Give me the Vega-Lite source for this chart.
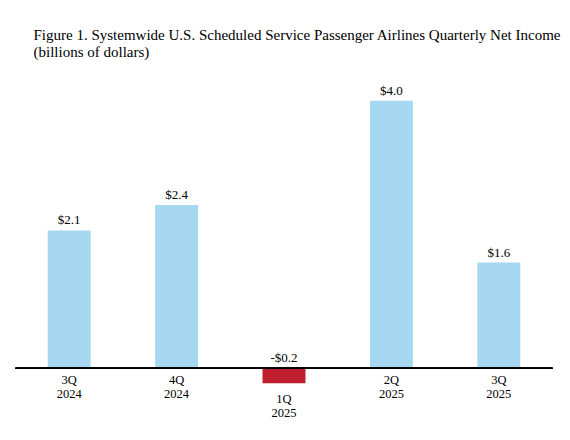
{
  "$schema": "https://vega.github.io/schema/vega-lite/v6.json",
  "autosize": {"type": "none"},
  "width": 537,
  "height": 267.6,
  "padding": {"left": 15.5, "top": 100.7, "right": 17.5, "bottom": 71.7},
  "background": "white",
  "title": {
    "text": ["Figure 1. Systemwide U.S. Scheduled Service Passenger Airlines Quarterly Net Income", "(billions of dollars)"],
    "anchor": "start",
    "frame": "group",
    "dx": 18,
    "offset": 25,
    "font": "Liberation Serif",
    "fontSize": 15,
    "fontWeight": "normal",
    "color": "black",
    "lineHeight": 16.7
  },
  "config": {"view": {"stroke": null}},
  "data": {
    "values": [
      {"quarter": "3Q\n2024", "value": 2.06, "label": "$2.1"},
      {"quarter": "4Q\n2024", "value": 2.44, "label": "$2.4"},
      {"quarter": "1Q\n2025", "value": -0.224, "label": "-$0.2"},
      {"quarter": "2Q\n2025", "value": 4.0, "label": "$4.0"},
      {"quarter": "3Q\n2025", "value": 1.58, "label": "$1.6"}
    ]
  },
  "encoding": {
    "x": {
      "field": "quarter",
      "type": "nominal",
      "sort": null,
      "axis": null,
      "scale": {"paddingInner": 0.6, "paddingOuter": 0.3}
    }
  },
  "layer": [
    {
      "mark": "bar",
      "encoding": {
        "y": {"field": "value", "type": "quantitative", "axis": null, "scale": {"domain": [0, 4], "nice": false, "zero": true}},
        "color": {
          "condition": {"test": "datum.value < 0", "value": "#bf1e2e"},
          "value": "#a7d8f1"
        }
      }
    },
    {
      "mark": {"type": "rule", "color": "black", "strokeWidth": 1.5},
      "encoding": {"y": {"datum": 0}, "x": null}
    },
    {
      "transform": [{"filter": "datum.value >= 0"}],
      "mark": {"type": "text", "font": "Liberation Serif", "fontSize": 13, "baseline": "alphabetic", "dy": -6, "color": "black"},
      "encoding": {"y": {"field": "value", "type": "quantitative"}, "text": {"field": "label"}}
    },
    {
      "transform": [{"filter": "datum.value < 0"}],
      "mark": {"type": "text", "font": "Liberation Serif", "fontSize": 13, "baseline": "alphabetic", "dy": -6, "color": "black"},
      "encoding": {"y": {"datum": 0}, "text": {"field": "label"}}
    },
    {
      "transform": [{"filter": "datum.value >= 0"}],
      "mark": {"type": "text", "font": "Liberation Serif", "fontSize": 12.5, "baseline": "alphabetic", "dy": 16, "lineBreak": "\n", "lineHeight": 14, "color": "black"},
      "encoding": {"y": {"datum": 0}, "text": {"field": "quarter"}}
    },
    {
      "transform": [{"filter": "datum.value < 0"}],
      "mark": {"type": "text", "font": "Liberation Serif", "fontSize": 12.5, "baseline": "alphabetic", "dy": 19.4, "lineBreak": "\n", "lineHeight": 14, "color": "black"},
      "encoding": {"y": {"field": "value", "type": "quantitative"}, "text": {"field": "quarter"}}
    }
  ]
}
